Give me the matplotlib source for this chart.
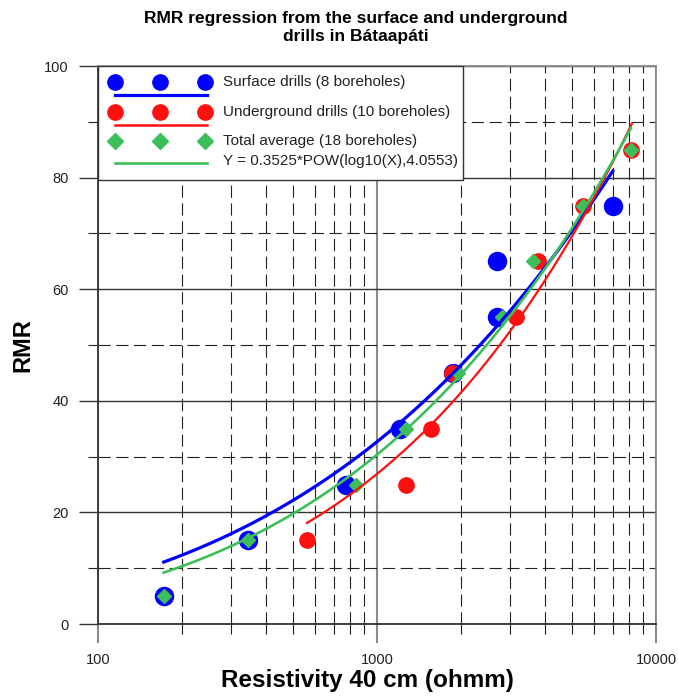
import numpy as np
import matplotlib
matplotlib.use("Agg")
import matplotlib.pyplot as plt
from matplotlib.ticker import MultipleLocator, FixedLocator, FixedFormatter, NullFormatter
from matplotlib.lines import Line2D
from matplotlib.patches import Rectangle

plt.rcParams['font.family'] = ['Liberation Sans', 'DejaVu Sans']

# surface drills (8 boreholes)
surf_x = [172, 345, 775, 1210, 1870, 2700, 2690, 7000]
surf_y = [5, 15, 25, 35, 45, 55, 65, 75]
# underground drills (10 boreholes)
und_x = [561, 1267, 1560, 1855, 3150, 3780, 5470, 8130]
und_y = [15, 25, 35, 45, 55, 65, 75, 85]
# total average (18 boreholes)
avg_x = [172, 345, 841, 1270, 1950, 2800, 3620, 5470, 8130]
avg_y = [5, 15, 25, 35, 45, 55, 65, 75, 85]

# regression Y = a*log10(X)^b : surface, underground, total
fit_a = [0.580, 0.1855, 0.3525]
fit_b = [3.669, 4.53, 4.0553]
fit_xmin = [172, 561, 172]
fit_xmax = [7000, 8200, 8130]

c_blue = '#0000FF'
c_red = '#FF1010'
c_green = '#3CBF5A'

fig = plt.figure(figsize=(6.78, 7.00), dpi=100)
ax = fig.add_axes([98/678, 1 - 624/700, 558/678, 558/700])

ax.set_xscale('log')
ax.set_xlim(100, 10000)
ax.set_ylim(0, 100)

# grid
ax.set_axisbelow(True)
ax.yaxis.set_major_locator(MultipleLocator(20))
ax.yaxis.set_minor_locator(FixedLocator([10, 30, 50, 70, 90]))
ax.xaxis.set_major_locator(FixedLocator([100, 1000, 10000]))
ax.xaxis.set_major_formatter(FixedFormatter(['100', '1000', '10000']))
ax.xaxis.set_minor_locator(FixedLocator([k * d for d in (100, 1000) for k in range(2, 10)]))
ax.xaxis.set_minor_formatter(NullFormatter())

ax.grid(which='major', axis='x', color='#8a8a8a', lw=1.5, ls='-')
ax.grid(which='major', axis='y', color='#333333', lw=1.0, ls='-')
ax.grid(which='minor', axis='both', color='#222222', lw=0.8, ls=(0, (11, 5)))

for s in ax.spines.values():
    s.set_color('#8a8a8a')
    s.set_linewidth(1.3)
ax.spines['left'].set_color('#333333')
ax.spines['bottom'].set_color('#333333')

ax.tick_params(axis='x', which='major', length=14, width=1.5, color='#8a8a8a', pad=7,
               labelsize=10.5, labelcolor='#222222')
ax.tick_params(axis='x', which='minor', length=7, width=0.8, color='#222222')
ax.tick_params(axis='y', which='major', length=14, width=1.0, color='#333333', pad=7,
               labelsize=10.5, labelcolor='#222222')
ax.tick_params(axis='y', which='minor', length=7, width=0.8, color='#222222')

# points
ax.plot(surf_x, surf_y, 'o', color=c_blue, ms=13, mec=c_blue, zorder=3)
ax.plot(und_x, und_y, 'o', color=c_red, ms=11, mec=c_red, zorder=4)
ax.plot(avg_x, avg_y, 'D', color=c_green, ms=7, mec=c_green, zorder=5)

# regression curves
for a, b, x0, x1, col, lw in zip(fit_a, fit_b, fit_xmin, fit_xmax,
                                  [c_blue, c_red, c_green], [2.3, 1.6, 1.9]):
    xs = np.logspace(np.log10(x0), np.log10(x1), 200)
    ax.plot(xs, a * np.log10(xs) ** b, color=col, lw=lw, zorder=6)

# legend box
T = ax.transAxes
ax.add_patch(Rectangle((0, 0.796), 0.654, 0.204, transform=T, fc='white',
                       ec='#333333', lw=1.0, zorder=10))
mx = [0.0305, 0.111, 0.192]
rows = [(0.972, 'o', c_blue, 11, 'Surface drills (8 boreholes)'),
        (0.918, 'o', c_red, 11, 'Underground drills (10 boreholes)'),
        (0.865, 'D', c_green, 8, 'Total average (18 boreholes)')]
for y, m, col, ms, lab in rows:
    ax.add_line(Line2D(mx, [y] * 3, transform=T, ls='none', marker=m, ms=ms,
                       color=col, mec=col, zorder=11))
    ax.text(0.224, y, lab, transform=T, fontsize=11, color='#222222',
            va='center', ha='left', zorder=11)
for y, col, lw in [(0.948, c_blue, 2.3), (0.894, c_red, 1.8), (0.827, c_green, 1.9)]:
    ax.add_line(Line2D([0.0305, 0.195], [y, y], transform=T, color=col, lw=lw, zorder=11))
ax.text(0.224, 0.829, 'Y = 0.3525*POW(log10(X),4.0553)', transform=T, fontsize=11,
        color='#222222', va='center', ha='left', zorder=11)

# labels
ax.set_xlabel('Resistivity 40 cm (ohmm)', fontsize=17.5, fontweight='bold', labelpad=1)
ax.xaxis.label.set_x(0.482)
ax.set_ylabel('RMR', fontsize=17, fontweight='bold', labelpad=7)
fig.text(356/678, 1 - 18/700, 'RMR regression from the surface and underground',
         ha='center', va='center', fontsize=12.5, fontweight='bold')
fig.text(356/678, 1 - 37/700, 'drills in Bátaapáti',
         ha='center', va='center', fontsize=12.5, fontweight='bold')

fig.savefig('out.png', dpi=100)
